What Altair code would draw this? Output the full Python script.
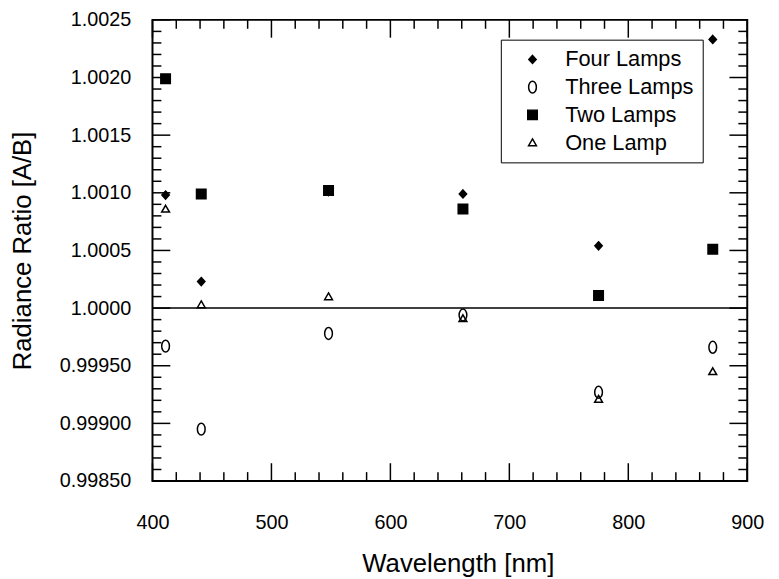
import altair as alt
import pandas as pd

wavelengths = [411, 441, 548, 661, 775, 871]
series_names = ["Four Lamps", "Three Lamps", "Two Lamps", "One Lamp"]
four_lamps = [1.00098, 1.00023, 1.00101, 1.00099, 1.00054, 1.00233]
three_lamps = [0.99967, 0.99895, 0.99978, 0.99994, 0.99927, 0.99966]
two_lamps = [1.00199, 1.00099, 1.00102, 1.00086, 1.00011, 1.00051]
one_lamp = [1.00086, 1.00003, 1.00010, 0.99991, 0.99921, 0.99945]

x_major = [400, 500, 600, 700, 800, 900]
x_minor = [420, 440, 460, 480, 520, 540, 560, 580, 620, 640, 660, 680,
           720, 740, 760, 780, 820, 840, 860, 880]
y_major = [0.9985, 0.9990, 0.9995, 1.0000, 1.0005, 1.0010, 1.0015, 1.0020, 1.0025]
y_minor = [0.9986, 0.9987, 0.9988, 0.9989, 0.9991, 0.9992, 0.9993, 0.9994,
           0.9996, 0.9997, 0.9998, 0.9999, 1.0001, 1.0002, 1.0003, 1.0004,
           1.0006, 1.0007, 1.0008, 1.0009, 1.0011, 1.0012, 1.0013, 1.0014,
           1.0016, 1.0017, 1.0018, 1.0019, 1.0021, 1.0022, 1.0023, 1.0024]

W, H = 601, 466
MAJ, MIN = 18, 9
FONT = "Liberation Sans"
X0, X1 = 400, 900
Y0, Y1 = 0.9985, 1.0025

kx = (X1 - X0) / W
ky = (Y1 - Y0) / H

rows = []
for name, vals in zip(series_names, [four_lamps, three_lamps, two_lamps, one_lamp]):
    for wl, v in zip(wavelengths, vals):
        rows.append({"kind": "pt", "series": name, "x": wl, "y": v, "x2": wl, "y2": v})
for vals, length in ((x_major, MAJ), (x_minor, MIN)):
    for t in vals:
        rows.append({"kind": "tick", "series": "", "x": t, "x2": t, "y": Y0, "y2": Y0 + length * ky})
        rows.append({"kind": "tick", "series": "", "x": t, "x2": t, "y": Y1, "y2": Y1 - length * ky})
for vals, length in ((y_major, MAJ), (y_minor, MIN)):
    for t in vals:
        rows.append({"kind": "tick", "series": "", "x": X0, "x2": X0 + length * kx, "y": t, "y2": t})
        rows.append({"kind": "tick", "series": "", "x": X1, "x2": X1 - length * kx, "y": t, "y2": t})
rows.append({"kind": "zero", "series": "", "x": X0, "x2": X1, "y": 1.0, "y2": 1.0})
df = pd.DataFrame(rows)

xs = alt.Scale(domain=[X0, X1], nice=False, zero=False)
ys = alt.Scale(domain=[Y0, Y1], nice=False, zero=False)

x_axis = alt.Axis(values=x_major, ticks=False, domain=False, grid=False, labelFlush=False,
                  labelFontSize=20, labelFont=FONT, labelColor="black",
                  labelPadding=32, title="Wavelength [nm]", titleFont=FONT,
                  titleFontSize=26, titleFontWeight="normal", titleColor="black",
                  titlePadding=18, titleX=W / 2 + 8)
y_axis = alt.Axis(values=y_major, ticks=False, domain=False, grid=False, labelFlush=False,
                  labelFontSize=20, labelFont=FONT, labelColor="black",
                  labelPadding=22,
                  labelExpr="datum.value >= 1 ? format(datum.value, '.4f') : format(datum.value, '.5f')",
                  title="Radiance Ratio [A/B]", titleFont=FONT,
                  titleFontSize=26, titleFontWeight="normal", titleColor="black",
                  titlePadding=24)

diamond = "M0,-0.68 L0.62,0 L0,0.68 L-0.62,0 Z"
ellipse = ("M0,-1 C0.359,-1 0.65,-0.552 0.65,0 C0.65,0.552 0.359,1 0,1 "
           "C-0.359,1 -0.65,0.552 -0.65,0 C-0.65,-0.552 -0.359,-1 0,-1 Z")
square = "M-0.8,-0.8 L0.8,-0.8 L0.8,0.8 L-0.8,0.8 Z"
triangle = "M0,-0.62 L0.66,0.52 L-0.66,0.52 Z"

base = alt.Chart(df)

lines = base.transform_filter("datum.kind != 'pt'").mark_rule(
    color="black", strokeWidth=1.5).encode(
    x=alt.X("x:Q", scale=xs, axis=x_axis),
    x2="x2:Q",
    y=alt.Y("y:Q", scale=ys, axis=y_axis),
    y2="y2:Q",
)

points = base.transform_filter("datum.kind == 'pt'").mark_point(
    strokeWidth=1.5, opacity=1, size=144).encode(
    x=alt.X("x:Q", scale=xs, axis=x_axis),
    y=alt.Y("y:Q", scale=ys, axis=y_axis),
    shape=alt.Shape("series:N",
                    scale=alt.Scale(domain=series_names,
                                    range=[diamond, ellipse, square, triangle]),
                    legend=alt.Legend(title=None, orient="none", legendX=352, legendY=20,
                                      strokeColor="black", padding=9, fillColor="white",
                                      labelFont=FONT, labelFontSize=22, labelColor="black",
                                      symbolOffset=12, labelOffset=22, rowPadding=6,
                                      symbolSize=144, symbolStrokeWidth=1.5)),
    fill=alt.Fill("series:N",
                  scale=alt.Scale(domain=series_names,
                                  range=["black", "transparent", "black", "transparent"])),
    stroke=alt.Stroke("series:N",
                      scale=alt.Scale(domain=series_names,
                                      range=["black", "black", "black", "black"])),
)

chart = alt.layer(lines, points).properties(
    width=W, height=H,
    autosize=alt.AutoSizeParams(type="none"),
    padding={"left": 146, "top": 9, "right": 24, "bottom": 96},
).configure_view(stroke="black", strokeWidth=2)

chart.save("out.html", embed_options={"renderer": "svg", "actions": False})
